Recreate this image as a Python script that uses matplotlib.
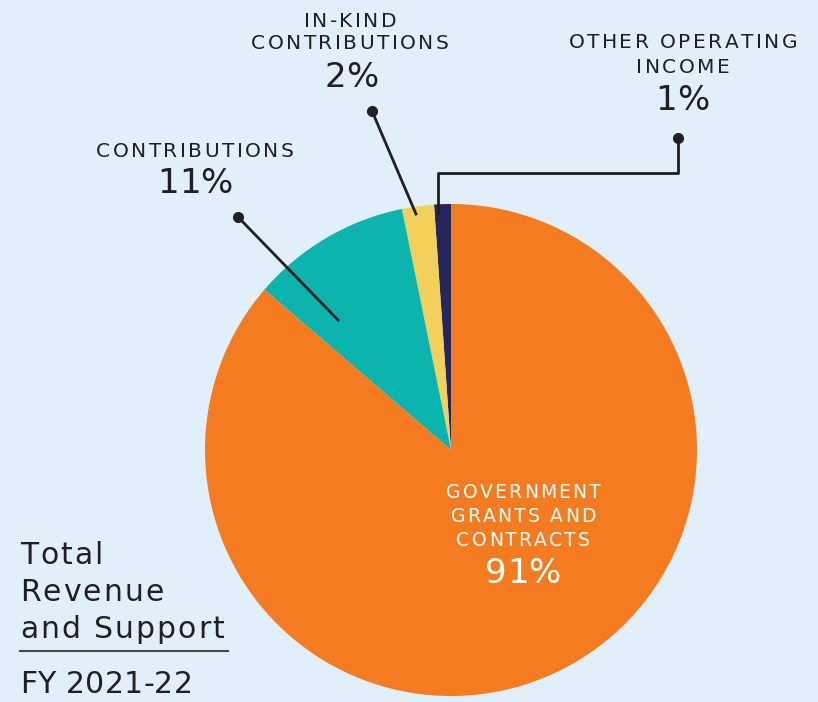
import matplotlib.pyplot as plt
from matplotlib.font_manager import FontProperties, findfont, get_font

# slices, counter-clockwise from 12 o'clock
labels = ['OTHER OPERATING\nINCOME', 'IN-KIND\nCONTRIBUTIONS', 'CONTRIBUTIONS',
          'GOVERNMENT\nGRANTS AND\nCONTRACTS']
values = [1.1, 2.1, 10.5, 86.3]
pct_labels = ['1%', '2%', '11%', '91%']
colors = ['#27265c', '#f2d05a', '#0bb5ad', '#f47b20']

BG = '#e0eff9'
INK = '#231f20'
H = 702
DPI = 100
FONT = get_font(findfont(FontProperties(family='DejaVu Sans')))


def Y(y):
    # image row -> axes y
    return H - y


def spaced(ax, x, y, s, fs, track, ha='center', **kw):
    # letter-spaced text, one glyph at a time (1 data unit == 1 pixel here)
    FONT.set_size(fs, DPI)
    adv = [FONT.load_char(ord(c)).linearHoriAdvance / 65536 for c in s]
    total = sum(adv) + track * (len(s) - 1)
    x0 = x - total / 2 if ha == 'center' else x
    for c, a in zip(s, adv):
        if c != ' ':
            ax.text(x0, y, c, fontsize=fs, ha='left', va='baseline', **kw)
        x0 += a + track


fig = plt.figure(figsize=(8.18, 7.02), dpi=DPI, facecolor=BG)
ax = fig.add_axes([0, 0, 1, 1])
ax.set_facecolor(BG)

ax.pie(values, colors=colors, startangle=90, counterclock=True,
       center=(451, Y(450)), radius=246, frame=True,
       wedgeprops=dict(linewidth=0))
ax.set_xlim(0, 818)
ax.set_ylim(0, H)
ax.set_aspect('equal')
ax.axis('off')

CAP_FS, CAP_TR = 14.5, 2.5
BIG_FS = 24.5

# contributions
spaced(ax, 195, Y(157), 'CONTRIBUTIONS', CAP_FS, CAP_TR, color=INK)
spaced(ax, 195, Y(193), pct_labels[2], BIG_FS, 0, color=INK)
ax.plot([238, 338], [Y(217), Y(320)], color=INK, lw=2)
ax.plot(238, Y(217), 'o', color=INK, ms=7)

# in-kind
spaced(ax, 350, Y(27), 'IN-KIND', CAP_FS, CAP_TR, color=INK)
spaced(ax, 350, Y(49), 'CONTRIBUTIONS', CAP_FS, CAP_TR, color=INK)
spaced(ax, 351, Y(87), pct_labels[1], BIG_FS, 0, color=INK)
ax.plot([372, 416], [Y(111), Y(214)], color=INK, lw=2)
ax.plot(372, Y(111), 'o', color=INK, ms=7)

# other operating income
spaced(ax, 683, Y(48), 'OTHER OPERATING', CAP_FS, CAP_TR, color=INK)
spaced(ax, 683, Y(73), 'INCOME', CAP_FS, CAP_TR, color=INK)
spaced(ax, 682, Y(110), pct_labels[0], BIG_FS, 0, color=INK)
ax.plot([678, 678, 438, 438], [Y(138), Y(173), Y(173), Y(213)], color=INK, lw=2)
ax.plot(678, Y(138), 'o', color=INK, ms=7)

# government
for i, line in enumerate(labels[3].split('\n')):
    spaced(ax, 523, Y(498 + 24 * i), line, 13.5, 2.2, color='white')
spaced(ax, 523, Y(583), pct_labels[3], BIG_FS, 0, color='white')

# title block
for txt, yb in [('Total', 564), ('Revenue', 601), ('and Support', 638)]:
    spaced(ax, 20, Y(yb), txt, 21.5, 2.0, ha='left', color=INK)
ax.plot([20, 228], [Y(651), Y(651)], color='#4a4a4a', lw=1.5)
spaced(ax, 20, Y(693), 'FY 2021-22', 21.5, 0.3, ha='left', color=INK)

fig.savefig('out.png', dpi=DPI, facecolor=BG)
